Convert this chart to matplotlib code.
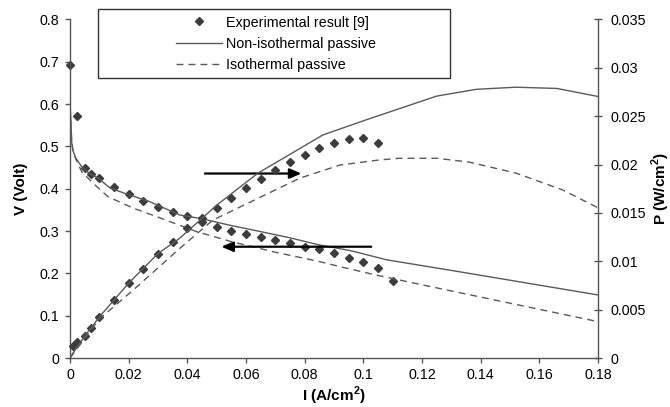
import matplotlib
matplotlib.use('Agg')
import matplotlib.pyplot as plt
from matplotlib.patches import Rectangle
from matplotlib.ticker import MultipleLocator, FuncFormatter

plt.rcParams['font.family'] = ['Liberation Sans', 'DejaVu Sans']
plt.rcParams['mathtext.fontset'] = 'custom'
plt.rcParams['mathtext.rm'] = 'Liberation Sans'
plt.rcParams['mathtext.bf'] = 'Liberation Sans:bold'

# Experimental polarisation data [9]
i_exp_v = [0, 0.0025, 0.005, 0.007, 0.01, 0.015, 0.02, 0.025, 0.03, 0.035, 0.04,
           0.045, 0.05, 0.055, 0.06, 0.065, 0.07, 0.075, 0.08, 0.085, 0.09, 0.095,
           0.1, 0.105, 0.11]
v_exp = [0.692, 0.573, 0.448, 0.436, 0.425, 0.405, 0.388, 0.370, 0.358, 0.344, 0.336,
         0.322, 0.310, 0.300, 0.292, 0.287, 0.279, 0.271, 0.263, 0.258, 0.249, 0.236,
         0.228, 0.212, 0.182]

# Experimental power density
i_exp_p = [0.001, 0.0025, 0.005, 0.007, 0.01, 0.015, 0.02, 0.025, 0.03, 0.035, 0.04,
           0.045, 0.05, 0.055, 0.06, 0.065, 0.07, 0.075, 0.08, 0.085, 0.09, 0.095,
           0.1, 0.105]
p_exp = [0.00123, 0.00166, 0.00228, 0.00306, 0.00424, 0.00604, 0.00774, 0.00923,
         0.01072, 0.01203, 0.01339, 0.01448, 0.01549, 0.01654, 0.01754, 0.01851,
         0.01943, 0.0203, 0.0210, 0.0217, 0.02227, 0.02262, 0.02279, 0.02227]

# Model: non-isothermal passive
i_non_v = [0, 0.0003, 0.0006, 0.001, 0.002, 0.004, 0.0065, 0.0096, 0.0136, 0.0187,
           0.027, 0.0374, 0.0443, 0.055, 0.0641, 0.075, 0.0851, 0.0955, 0.108, 0.13,
           0.155, 0.18]
v_non = [0.603, 0.56, 0.508, 0.49, 0.472, 0.452, 0.437, 0.425, 0.402, 0.389, 0.370,
         0.338, 0.330, 0.313, 0.300, 0.284, 0.267, 0.254, 0.232, 0.207, 0.178, 0.149]
i_non_p = [0, 0.001, 0.005, 0.01, 0.02, 0.03, 0.0374, 0.05, 0.0641, 0.0862, 0.101,
           0.125, 0.1385, 0.152, 0.166, 0.18]
p_non = [0, 0.0005, 0.00225, 0.00424, 0.00774, 0.0108, 0.01238, 0.0158, 0.01912,
         0.02306, 0.02463, 0.02708, 0.02778, 0.0280, 0.02787, 0.02704]

# Model: isothermal passive
i_iso_v = [0, 0.0005, 0.001, 0.002, 0.004, 0.0085, 0.013, 0.0216, 0.03, 0.043, 0.055,
           0.07, 0.085, 0.092, 0.1044, 0.12, 0.14, 0.16, 0.18]
v_iso = [0.59, 0.52, 0.49, 0.47, 0.44, 0.409, 0.381, 0.354, 0.333, 0.299, 0.275,
         0.25, 0.228, 0.216, 0.196, 0.173, 0.144, 0.115, 0.086]
i_iso_p = [0, 0.01, 0.0216, 0.0374, 0.0487, 0.0783, 0.092, 0.1055, 0.1123, 0.125,
           0.136, 0.152, 0.168, 0.18]
p_iso = [0, 0.00403, 0.00704, 0.01133, 0.01426, 0.01859, 0.01995, 0.02048, 0.02065,
         0.02065, 0.02026, 0.01912, 0.01737, 0.01553]

W, H = 670, 407
fs = 10.3
lab_fs = 11
axis_col = '#555555'
line_col = '#5a5a5a'
mark_col = '#3c3c3c'
dash = (0, (5, 3.6))

fig = plt.figure(figsize=(W / 100, H / 100), dpi=100)
ax = fig.add_axes([70 / W, 1 - 358 / H, 528 / W, 338.5 / H])
ax2 = ax.twinx()

# voltage curves (left axis)
exp_h, = ax.plot(i_exp_v, v_exp, 'D', ms=4.3, color=mark_col, ls='none', clip_on=False)
non_h, = ax.plot(i_non_v, v_non, '-', color=line_col, lw=1.0)
iso_h, = ax.plot(i_iso_v, v_iso, color=line_col, lw=1.0, ls=dash)

# power curves (right axis)
ax2.plot(i_exp_p, p_exp, 'D', ms=4.3, color=mark_col, ls='none', clip_on=False)
ax2.plot(i_non_p, p_non, '-', color=line_col, lw=1.0)
ax2.plot(i_iso_p, p_iso, color=line_col, lw=1.0, ls=dash)

# arrows pointing to the relevant axis
arr = dict(arrowstyle='-|>,head_length=0.7,head_width=0.3', color='black', lw=1.6,
           shrinkA=0, shrinkB=0)
ax.annotate('', xy=(0.0789, 0.436), xytext=(0.046, 0.436), arrowprops=arr)
ax.annotate('', xy=(0.0516, 0.263), xytext=(0.1027, 0.263), arrowprops=arr)

ax.set_xlim(0, 0.18)
ax.set_ylim(0, 0.8)
ax2.set_ylim(0, 0.035)
ax.xaxis.set_major_locator(MultipleLocator(0.02))
ax.yaxis.set_major_locator(MultipleLocator(0.1))
ax2.yaxis.set_major_locator(MultipleLocator(0.005))
fmt = FuncFormatter(lambda v, p: '%g' % round(v, 4))
ax.xaxis.set_major_formatter(fmt)
ax.yaxis.set_major_formatter(fmt)
ax2.yaxis.set_major_formatter(fmt)

for a in (ax, ax2):
    a.spines['top'].set_visible(False)
    for s in a.spines.values():
        s.set_color(axis_col)
        s.set_linewidth(1.0)
ax.spines['right'].set_visible(False)
ax2.spines['left'].set_visible(False)
ax2.spines['bottom'].set_visible(False)

ax.tick_params(axis='both', direction='out', length=3.5, width=1.0, color=axis_col,
               labelsize=fs, pad=4)
ax2.tick_params(axis='y', direction='inout', length=6, width=1.0, color=axis_col,
                labelsize=fs, pad=6)

ax.set_xlabel(r'I (A/cm$^{\mathbf{2}}$)', fontsize=lab_fs, fontweight='bold')
ax.set_ylabel('V (Volt)', fontsize=lab_fs, fontweight='bold')
ax2.set_ylabel(r'P (W/cm$^{\mathbf{2}}$)', fontsize=lab_fs, fontweight='bold',
               rotation=90)
ax.xaxis.set_label_coords(0.5, -0.079)
ax.yaxis.set_label_coords(-0.08, 0.5)
ax2.yaxis.set_label_coords(1.097, 0.5)

# legend box sits partly above the plot area
fig.add_artist(Rectangle((98 / W, 1 - 77.7 / H), 352 / W, 69 / H,
                         transform=fig.transFigure, facecolor='white',
                         edgecolor='#333333', lw=1.0, zorder=5))
leg = fig.legend([exp_h, non_h, iso_h],
                 ['Experimental result [9]', 'Non-isothermal passive', 'Isothermal passive'],
                 loc='upper left', bbox_to_anchor=(176 / W, 1 - 15.5 / H),
                 frameon=False, fontsize=fs, numpoints=1, handlelength=3.2,
                 handletextpad=0.3, labelspacing=0.5, borderpad=0, borderaxespad=0)
leg.set_zorder(6)

fig.savefig('out.png', dpi=100)
